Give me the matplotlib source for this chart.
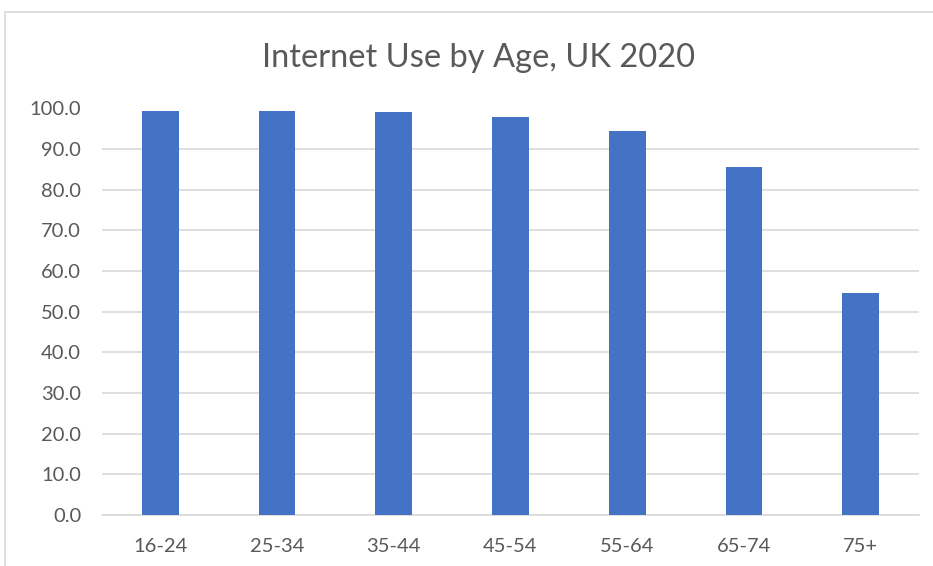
import matplotlib
matplotlib.use("Agg")
import matplotlib.pyplot as plt
from matplotlib.lines import Line2D

categories = ["16-24", "25-34", "35-44", "45-54", "55-64", "65-74", "75+"]
values = [99.4, 99.4, 99.1, 97.8, 94.4, 85.5, 54.5]
yticks = [0, 10, 20, 30, 40, 50, 60, 70, 80, 90, 100]
title = "Internet Use by Age, UK 2020"

plt.rcParams['font.family'] = ['Lato', 'DejaVu Sans']
txt = '#595959'
grid = '#d9d9d9'

fig = plt.figure(figsize=(9.33, 5.66), dpi=100)
W, H = 933, 566
ax = fig.add_axes([102 / W, 1 - 515 / H, (919 - 102) / W, (515 - 108.5) / H])

x = list(range(len(categories)))
ax.bar(x, values, width=0.314, color='#4472C4', zorder=3)
ax.set_xlim(-0.5, len(categories) - 0.5)
ax.set_ylim(0, 100)
ax.set_yticks(yticks)
ax.set_yticklabels([f"{v:.1f}" for v in yticks])
ax.set_xticks(x)
ax.set_xticklabels(categories)
ax.grid(axis='y', color=grid, linewidth=1.2, zorder=0)
for s in ['top', 'right', 'left']:
    ax.spines[s].set_visible(False)
ax.spines['bottom'].set_color(grid)
ax.spines['bottom'].set_linewidth(1.2)
ax.tick_params(axis='both', length=0, colors=txt, labelsize=14.5)
ax.tick_params(axis='y', pad=15)
ax.tick_params(axis='x', pad=16.5)

fig.text(479 / W, 1 - 67 / H, title, ha='center', va='baseline', fontsize=23.5, color=txt)

# outer chart border (left and top visible)
fig.add_artist(Line2D([5 / W, 5 / W], [0, 1 - 12 / H], transform=fig.transFigure, color=grid, linewidth=1.2))
fig.add_artist(Line2D([5 / W, 1], [1 - 12 / H, 1 - 12 / H], transform=fig.transFigure, color=grid, linewidth=1.2))

fig.savefig('out.png', dpi=100, facecolor='white')
